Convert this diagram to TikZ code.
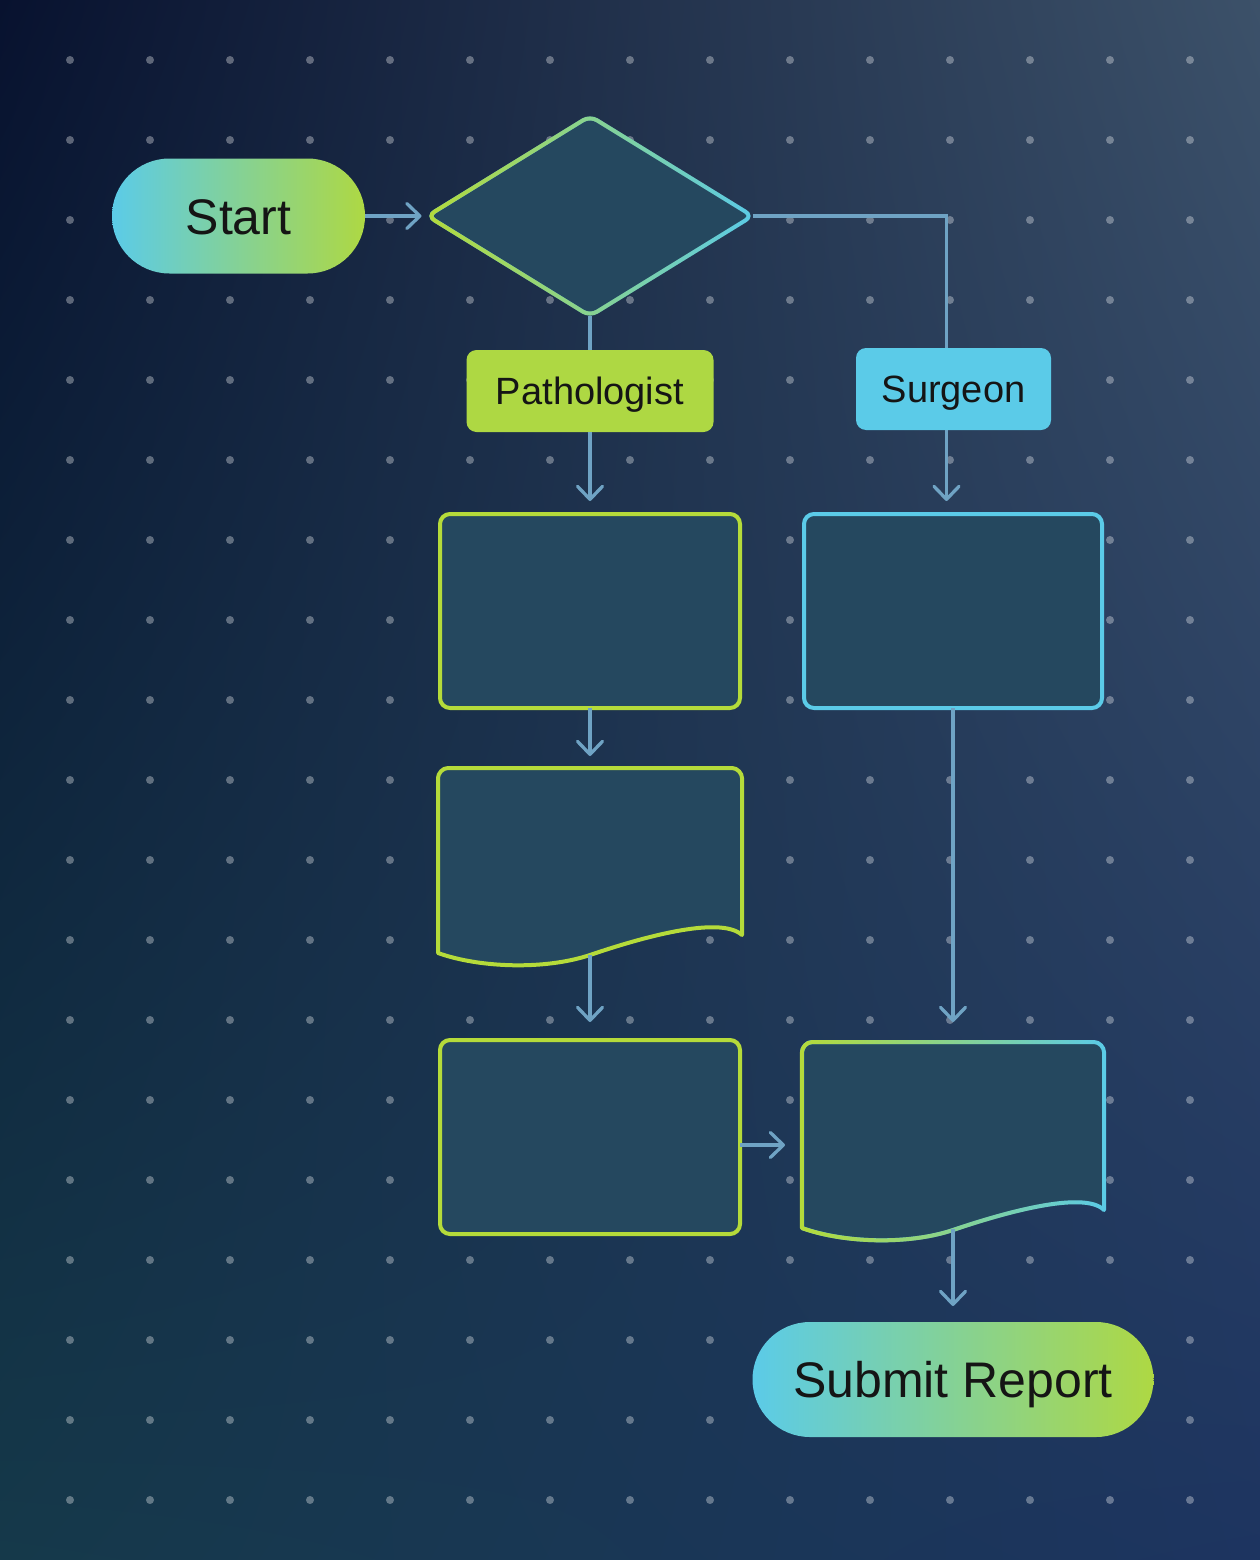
\documentclass[tikz,border=0pt]{standalone}
\usepackage{fontspec}
\setmainfont{Liberation Sans}
\usetikzlibrary{arrows.meta,shapes.geometric,shapes.misc,fadings,shadings,calc}
\definecolor{bgTL}{HTML}{08122F}
\definecolor{bgTR}{HTML}{3C5169}
\definecolor{bgBL}{HTML}{15394A}
\definecolor{bgBR}{HTML}{1D3460}
\definecolor{limec}{HTML}{AED843}
\definecolor{limestroke}{HTML}{B5DB3A}
\definecolor{cyanc}{HTML}{5BCBE8}
\definecolor{boxfill}{HTML}{25485F}
\definecolor{connc}{HTML}{6FA3C4}
\definecolor{textc}{HTML}{151515}
\tikzfading[name=fadeR, left color=transparent!0, right color=transparent!100]
\begin{document}
\begin{tikzpicture}[x=1pt,y=-1pt,
  conn/.style={draw=connc, line width=3.3pt},
  arr/.style={conn, -{Straight Barb[length=13pt,width=25pt,round]}},
  term/.style={rounded rectangle, minimum height=115pt, inner sep=0pt, outer sep=0pt,
    text=textc, font=\fontsize{50}{60}\selectfont, text height=36pt, text depth=0pt,
    left color=cyanc, right color=limec},
  lab/.style={rectangle, rounded corners=10pt, minimum height=82pt, inner sep=0pt, outer sep=0pt,
    text=textc, font=\fontsize{38}{46}\selectfont, text height=27.5pt, text depth=0pt},
  procbox/.style={rectangle, rounded corners=10pt, minimum width=300pt, minimum height=194pt,
    inner sep=0pt, outer sep=0pt, fill=boxfill, line width=4pt},
  framebox/.style={rectangle, inner sep=0pt, outer sep=0pt},
  dec/.style={diamond, minimum width=325pt, minimum height=200pt, inner sep=0pt, outer sep=0pt,
    fill=boxfill, rounded corners=8pt},
  docline/.style={line width=4pt, line join=round}
]
\useasboundingbox (0,0) rectangle (1260,1560);
\shade[upper left=bgTL, upper right=bgTR, lower left=bgBL, lower right=bgBR] (0,0) rectangle (1260,1560);
\foreach \x in {70,150,...,1190}
  \foreach \y in {60,140,...,1500}
    \fill[white, opacity=.33] (\x,\y) circle[radius=4pt];

% nodes
\node[term, minimum width=253pt] (start) at (238.5,216) {Start};
\node[dec] (dia) at (590,216) {};
\node[lab, fill=limec, minimum width=247pt] (path) at (590,391) {Pathologist};
\node[lab, fill=cyanc, minimum width=195pt] (surg) at (953.5,389) {Surgeon};
\node[procbox, draw=limestroke] (p1) at (590,611) {};
\node[procbox, draw=cyanc, minimum width=298pt] (s1) at (953,611) {};
\node[framebox, minimum width=304pt, minimum height=187pt] (p2) at (590,861.5) {};
\node[procbox, draw=limestroke] (p3) at (590,1137) {};
\node[framebox, minimum width=302pt, minimum height=187pt] (s2) at (953,1135.5) {};
\node[term, minimum width=401pt] (end) at (953,1379.5) {Submit Report};

% diamond gradient stroke
\draw[cyanc, line width=4pt, rounded corners=8pt]
  ($(dia.west)!.5!(dia.north)$) -- (dia.north) -- (dia.east) -- (dia.south) -- (dia.west) -- cycle;
\draw[limestroke, line width=4pt, rounded corners=8pt, path fading=fadeR]
  ($(dia.west)!.5!(dia.north)$) -- (dia.north) -- (dia.east) -- (dia.south) -- (dia.west) -- cycle;

% document shape P2
\draw[docline, draw=limestroke, fill=boxfill]
  (438,953) -- (438,778) .. controls (438,773.5) and (442.5,768) .. (448,768)
  -- (732,768) .. controls (737.5,768) and (742,773.5) .. (742,778)
  -- (742,935) .. controls (720,915) and (640,938) .. (590,955)
  .. controls (545,970) and (480,968) .. (438,953) -- cycle;

% document shape S2 (gradient stroke)
\draw[docline, draw=cyanc, fill=boxfill]
  (802,1228) -- (802,1052) .. controls (802,1047.5) and (806.5,1042) .. (812,1042)
  -- (1094,1042) .. controls (1099.5,1042) and (1104,1047.5) .. (1104,1052)
  -- (1104,1210) .. controls (1084,1190) and (1003,1213) .. (953,1230)
  .. controls (908,1245) and (844,1243) .. (802,1228) -- cycle;
\draw[docline, draw=limestroke, path fading=fadeR]
  (802,1228) -- (802,1052) .. controls (802,1047.5) and (806.5,1042) .. (812,1042)
  -- (1094,1042) .. controls (1099.5,1042) and (1104,1047.5) .. (1104,1052)
  -- (1104,1210) .. controls (1084,1190) and (1003,1213) .. (953,1230)
  .. controls (908,1245) and (844,1243) .. (802,1228) -- cycle;

% connectors
\coordinate (sa) at ([xshift=-7pt]surg.north);
\coordinate (sb) at ([xshift=-7pt]surg.south);
\coordinate (pa) at ([yshift=-8pt]p3.east);
\draw[arr, shorten >=6pt] (start.east) -- (dia.west);
\draw[conn] (dia.east) -| (sa);
\draw[conn] (dia.south) -- (path.north);
\draw[arr, shorten >=13pt] (path.south) -- (p1.north);
\draw[arr, shorten >=13pt] (sb) -- (sb |- s1.north);
\draw[arr, shorten >=12pt] (p1.south) -- (p2.north);
\draw[arr, shorten >=18pt] (p2.south) -- (p3.north);
\draw[arr, shorten >=20pt] (s1.south) -- (s2.north);
\draw[arr, shorten >=17pt] (pa) -- (pa -| s2.west);
\draw[arr, shorten >=16pt] (s2.south) -- (end.north);
\end{tikzpicture}
\end{document}
